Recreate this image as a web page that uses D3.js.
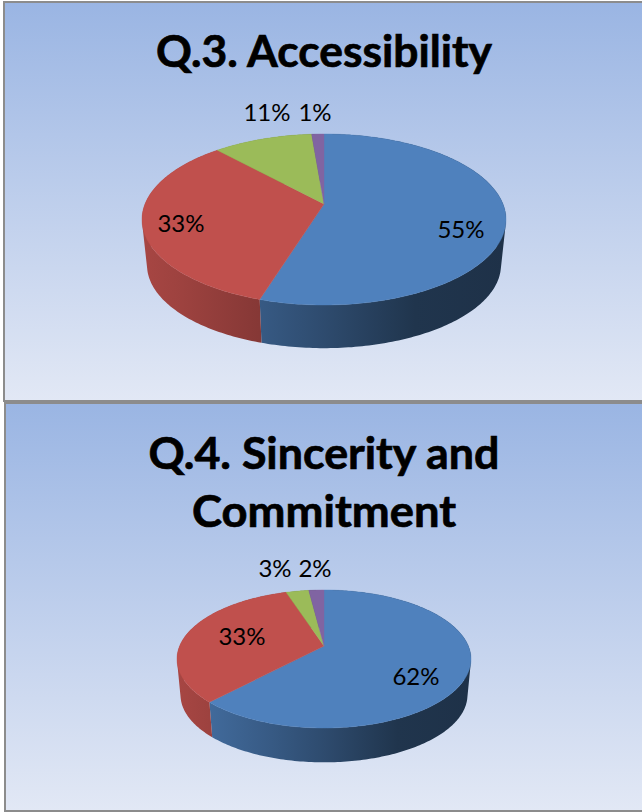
<!DOCTYPE html>
<html>
<head>
<meta charset="utf-8">
<script src="https://cdn.jsdelivr.net/npm/d3@7"></script>
<style>
html,body{margin:0;padding:0;background:#fff}
svg{display:block}
text{font-family:Lato,Carlito,"Open Sans",sans-serif;fill:#000;text-anchor:middle}
</style>
</head>
<body>
<svg id="c" width="642" height="812"></svg>
<script>
// Data (slice sizes; labels show them rounded)
const categories = ["A", "B", "C", "D"];
const accessibilityValues = [54.8, 33.4, 10.5, 1.3];
const sincerityValues = [62, 33, 3, 2];
const accessibilityTitle = ["Q.3. Accessibility"];
const sincerityTitle = ["Q.4. Sincerity and", "Commitment"];

// Styles
const sliceColors = ["#4f81bd", "#c0504d", "#9bbb59", "#8064a2"];
const wallShadeStops = [[0, .87], [.11, .82], [.32, .70], [.5, .58], [.75, .41], [1, .38]];
const titleSize = 44, labelSize = 24;

const panels = [
  {id: "p1", x: 3, y: 1, w: 639, h: 400, values: accessibilityValues, title: accessibilityTitle,
   titleY: [67], titleLen: [336], cx: 324, rx: 182, top: 134, bottom: 305, apex: 204, wallScale: .9725, wallDrop: 45.5,
   labels: [[461, 230], [181, 224], [267, 113], [315, 113]]},
  {id: "p2", x: 4, y: 402, w: 638, h: 409, values: sincerityValues, title: sincerityTitle,
   titleY: [469, 527], titleLen: [351, 264], cx: 324, rx: 147, top: 590, bottom: 728, apex: 646, wallScale: .976, wallDrop: 36,
   labels: [[416, 677], [242, 637], [275, 569], [315, 569]]}
];

const svg = d3.select("#c");
const defs = svg.append("defs");
const bg = defs.append("linearGradient").attr("id", "bg").attr("x1", 0).attr("y1", 0).attr("x2", 0).attr("y2", 1);
bg.append("stop").attr("offset", 0).attr("stop-color", "#9ab5e3");
bg.append("stop").attr("offset", 1).attr("stop-color", "#e2e8f5");

const pie = d3.pie().sort(null).value(d => d);

panels.forEach(p => {
  // Panel
  svg.append("rect").attr("x", p.x + 1).attr("y", p.y + 1).attr("width", p.w).attr("height", p.h - 1)
    .attr("fill", "url(#bg)").attr("stroke", "#8c8c8c").attr("stroke-width", 2);

  // Perspective circle: the apex is the projected centre of the rim
  const up = p.apex - p.top, down = p.bottom - p.apex;
  const B = 2 / (1 / down + 1 / up);
  const k = B / down - 1;
  const A = p.rx * Math.sqrt(1 - k * k);
  const ey = (p.top + p.bottom) / 2;
  const xS = d3.scaleLinear().domain([-1, 1]).range([p.cx - A, p.cx + A]);
  const yS = d3.scaleLinear().domain([-1, 1]).range([p.apex - B, p.apex + B]);
  const rim = t => {
    const u = Math.sin(t), v = -Math.cos(t), w = 1 + k * v;
    return [xS(u / w), yS(v / w)];
  };
  const floor = ([x, y]) => [p.cx + (x - p.cx) * p.wallScale, ey + (y - ey) * p.wallScale + p.wallDrop];
  const samples = (a, b) => d3.range(0, 1.0001, 1 / Math.max(8, Math.ceil((b - a) * 60))).map(f => a + (b - a) * f);
  const line = d3.line();

  // Wall gradients: shade depends on the horizontal position
  sliceColors.forEach((c, i) => {
    const g = defs.append("linearGradient").attr("id", `${p.id}w${i}`).attr("gradientUnits", "userSpaceOnUse")
      .attr("x1", p.cx - p.rx).attr("x2", p.cx + p.rx).attr("y1", 0).attr("y2", 0);
    const base = d3.rgb(c);
    wallShadeStops.forEach(([o, s]) => g.append("stop").attr("offset", o)
      .attr("stop-color", d3.rgb(base.r * s, base.g * s, base.b * s).formatHex()));
  });

  const arcs = pie(p.values);
  const gp = svg.append("g");
  // Walls: one outward facing quad per rim step, so the sides reach the silhouette
  arcs.forEach((a, i) => {
    const pts = samples(a.startAngle, a.endAngle).map(rim);
    const quads = d3.pairs(pts).map(([m, n]) => {
      const q = [m, n, floor(n), floor(m)];
      const area = d3.polygonArea(q);
      return line(area < 0 ? q.slice().reverse() : q) + "Z";
    });
    gp.append("path").attr("d", quads.join("")).attr("fill", `url(#${p.id}w${i})`);
  });
  // Top faces
  arcs.forEach((a, i) => {
    const pts = [[p.cx, p.apex]].concat(samples(a.startAngle, a.endAngle).map(rim));
    gp.append("path").attr("d", line(pts) + "Z").attr("fill", sliceColors[i])
      .attr("stroke", sliceColors[i]).attr("stroke-width", .4);
  });
  // Labels
  arcs.forEach((a, i) => {
    svg.append("text").attr("x", p.labels[i][0]).attr("y", p.labels[i][1]).attr("dy", "0.35em")
      .attr("font-size", labelSize).text(Math.round(a.value) + "%");
  });
  // Title
  p.title.forEach((t, i) => {
    svg.append("text").attr("x", p.cx).attr("y", p.titleY[i]).attr("font-size", titleSize)
      .attr("font-weight", 700).attr("stroke", "#000").attr("stroke-width", .7)
      .attr("textLength", p.titleLen[i]).attr("lengthAdjust", "spacingAndGlyphs").text(t);
  });
});
</script>
</body>
</html>
